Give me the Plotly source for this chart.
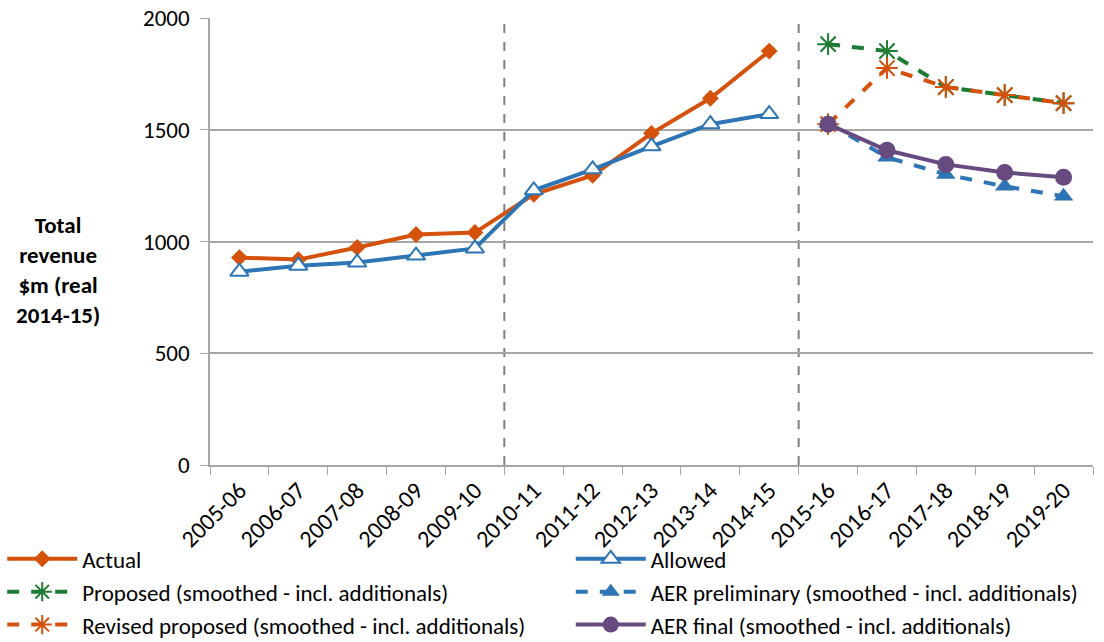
import plotly.graph_objects as go

years = ["2005-06", "2006-07", "2007-08", "2008-09", "2009-10", "2010-11", "2011-12",
         "2012-13", "2013-14", "2014-15", "2015-16", "2016-17", "2017-18", "2018-19", "2019-20"]
hist_years = years[:10]
fut_years = years[10:]

actual = [928, 919, 973, 1031, 1040, 1211, 1296, 1484, 1641, 1852]
allowed = [865, 892, 906, 937, 969, 1229, 1323, 1426, 1525, 1570]
proposed = [1883, 1852, 1691, 1655, 1619]
revised = [1525, 1776, 1691, 1655, 1619]
aer_prelim = [1529, 1377, 1300, 1247, 1202]
aer_final = [1525, 1408, 1345, 1309, 1287]

ORANGE = "#D4520C"
BLUE = "#2E75B6"
GREEN = "#1E7B34"
PURPLE = "#664A80"
FONT = "Carlito, Lato, sans-serif"

fig = go.Figure()
fig.add_trace(go.Scatter(x=hist_years, y=actual, name="Actual", mode="lines+markers",
                         legend="legend",
                         line=dict(color=ORANGE, width=4),
                         marker=dict(symbol="diamond", size=13, color=ORANGE)))
fig.add_trace(go.Scatter(x=fut_years, y=proposed, name="Proposed (smoothed - incl. additionals)",
                         mode="lines+markers", legend="legend",
                         line=dict(color=GREEN, width=4, dash="dash"),
                         marker=dict(symbol="asterisk-open", size=18, color=GREEN,
                                     line=dict(color=GREEN, width=2))))
fig.add_trace(go.Scatter(x=fut_years, y=revised, name="Revised proposed (smoothed - incl. additionals)",
                         mode="lines+markers", legend="legend",
                         line=dict(color=ORANGE, width=4, dash="dash"),
                         marker=dict(symbol="asterisk-open", size=18, color=ORANGE,
                                     line=dict(color=ORANGE, width=2))))
fig.add_trace(go.Scatter(x=hist_years, y=allowed, name="Allowed", mode="lines+markers",
                         legend="legend2",
                         line=dict(color=BLUE, width=4),
                         marker=dict(symbol="triangle-up", size=16, color="white",
                                     line=dict(color=BLUE, width=2))))
fig.add_trace(go.Scatter(x=fut_years, y=aer_prelim, name="AER preliminary (smoothed - incl. additionals)",
                         mode="lines+markers", legend="legend2",
                         line=dict(color=BLUE, width=4, dash="dash"),
                         marker=dict(symbol="triangle-up", size=17, color=BLUE)))
fig.add_trace(go.Scatter(x=fut_years, y=aer_final, name="AER final (smoothed - incl. additionals)",
                         mode="lines+markers", legend="legend2",
                         line=dict(color=PURPLE, width=4),
                         marker=dict(symbol="circle", size=17, color=PURPLE)))

for xv in [4.5, 9.5]:
    fig.add_shape(type="line", xref="x", yref="y", x0=xv, x1=xv, y0=0, y1=2000,
                  line=dict(color="#808080", width=2, dash="dash"), layer="below")

fig.add_annotation(xref="paper", yref="paper", x=-0.172, y=0.436,
                   text="<b>Total<br>revenue<br>$m (real<br>2014-15)</b>",
                   showarrow=False, align="center", xanchor="center", yanchor="middle",
                   font=dict(size=23, color="#000000", family=FONT))

leg_common = dict(orientation="v", xanchor="left", yanchor="top",
                  xref="container", yref="container", tracegroupgap=0, itemwidth=70,
                  bgcolor="rgba(0,0,0,0)", font=dict(size=23, family=FONT, color="#000000"))

fig.update_layout(
    width=1104, height=642,
    margin=dict(l=210, r=11, t=18, b=177, autoexpand=False),
    paper_bgcolor="white", plot_bgcolor="white",
    font=dict(family=FONT, size=23, color="#000000"),
    showlegend=True,
    legend=dict(x=0.002, y=0.163, **leg_common),
    legend2=dict(x=0.517, y=0.163, **leg_common),
    xaxis=dict(type="category", categoryorder="array", categoryarray=years,
               range=[-0.5, 14.5], tickangle=-45, tickson="boundaries",
               ticks="outside", ticklen=8, tickcolor="#A6A6A6",
               showline=True, linecolor="#A6A6A6", linewidth=1.5,
               showgrid=False, tickfont=dict(size=24, color="#000000")),
    yaxis=dict(range=[0, 2000], tickvals=[0, 500, 1000, 1500, 2000],
               showgrid=True, gridcolor="#A6A6A6", gridwidth=1.5,
               showline=True, linecolor="#A6A6A6", linewidth=1.5,
               ticks="outside", ticklen=8, tickcolor="#A6A6A6",
               ticklabelstandoff=6, ticklabeloverflow="allow",
               zeroline=False, tickfont=dict(size=23, color="#000000")),
)

fig.write_html("out.html", config={"displayModeBar": False},
               post_script="document.body.style.margin='0px';document.body.style.overflow='hidden';")
